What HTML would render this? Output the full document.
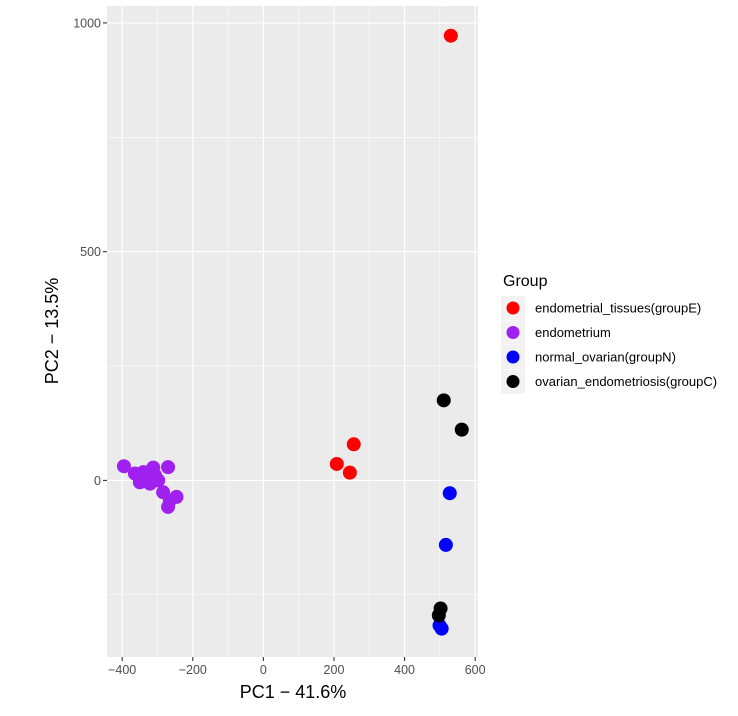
<!DOCTYPE html>
<html><head><meta charset="utf-8"><style>
body{margin:0;background:#fff;}
svg{display:block;font-family:"Liberation Sans",Arial,sans-serif;}
</style></head><body>
<svg id="chart" width="738" height="716" viewBox="0 0 738 716">
<rect x="107" y="6" width="371" height="651" fill="#ebebeb"/>
<g id="grid"></g>
<g id="points"></g>
<g id="axes"></g>
<text x="293" y="698" font-size="18" text-anchor="middle" fill="#000">PC1 − 41.6%</text>
<text transform="translate(58,331) rotate(-90)" font-size="18" text-anchor="middle" fill="#000">PC2 − 13.5%</text>
<g id="legend">
<text x="503" y="286" font-size="16" fill="#000">Group</text>
</g>
</svg>
<script>
const groups=["endometrial_tissues(groupE)","endometrium","normal_ovarian(groupN)","ovarian_endometriosis(groupC)"];
const colors=["#ff0000","#a020f0","#0000ff","#000000"];
const xTicks=[-400,-200,0,200,400,600];
const yTicks=[0,500,1000];
const pc1E=[531,256,208,245];
const pc2E=[972,79,36,17];
const pc1P=[-395,-270,-364,-340,-312,-350,-321,-298,-331,-284,-246,-270,-265,-307];
const pc2P=[31,29,15,18,28,-4,-7,0,7,-26,-36,-58,-44,11];
const pc1N=[528,517,499,505];
const pc2N=[-28,-141,-317,-324];
const pc1C=[511,562,502,497];
const pc2C=[175,111,-280,-295];

const L=107,R=478,T=6,B=657;
const xMin=-443,xMax=608,yMin=-386,yMax=1037;
const sx=v=>L+(v-xMin)/(xMax-xMin)*(R-L);
const sy=v=>B-(v-yMin)/(yMax-yMin)*(B-T);
const NS="http://www.w3.org/2000/svg";
function mk(t,a,p){const e=document.createElementNS(NS,t);for(const k in a)e.setAttribute(k,a[k]);p.appendChild(e);return e;}
const grid=document.getElementById('grid');
for(let v=-400;v<=600;v+=100){
  const l=mk('line',{x1:sx(v),x2:sx(v),y1:T,y2:B,stroke:'#fff','stroke-width':v%200===0?1.1:0.55},grid);
  
  
}
for(let v=-250;v<=1000;v+=250){
  const l=mk('line',{x1:L,x2:R,y1:sy(v),y2:sy(v),stroke:'#fff','stroke-width':v%500===0?1.1:0.55},grid);
  
  
}
const axes=document.getElementById('axes');
xTicks.forEach(v=>{
  const t=mk('line',{x1:sx(v),x2:sx(v),y1:B,y2:B+4,stroke:'#333','stroke-width':1.1},axes);
  
  
  const tx=mk('text',{x:sx(v),y:B+17,'font-size':12.5,'text-anchor':'middle',fill:'#4d4d4d'},axes);
  tx.textContent=v<0?'−'+Math.abs(v):String(v);
  
  
});
yTicks.forEach(v=>{
  const t=mk('line',{x1:L-4,x2:L,y1:sy(v),y2:sy(v),stroke:'#333','stroke-width':1.1},axes);
  
  
  const tx=mk('text',{x:L-6,y:sy(v)+4.5,'font-size':12.5,'text-anchor':'end',fill:'#4d4d4d'},axes);
  tx.textContent=String(v);
  
  
});
const pts=document.getElementById('points');
const series=[[pc1E,pc2E],[pc1P,pc2P],[pc1N,pc2N],[pc1C,pc2C]];
series.forEach((s,gi)=>{
  s[0].forEach((x,i)=>{
    const c=mk('circle',{cx:sx(x),cy:sy(s[1][i]),r:7,fill:colors[gi]},pts);
    
    
  });
});
const lg=document.getElementById('legend');
groups.forEach((g,i)=>{
  const y=308+i*24.5;
  const bx=mk('rect',{x:501,y:y-12,width:24,height:24,fill:'#f2f2f2'},lg);
  
  
  const c=mk('circle',{cx:513,cy:y,r:6.5,fill:colors[i]},lg);
  
  
  const t=mk('text',{x:535,y:y+4.5,'font-size':13,fill:'#000'},lg);
  t.textContent=g;
  
  
});
</script>
</body></html>
